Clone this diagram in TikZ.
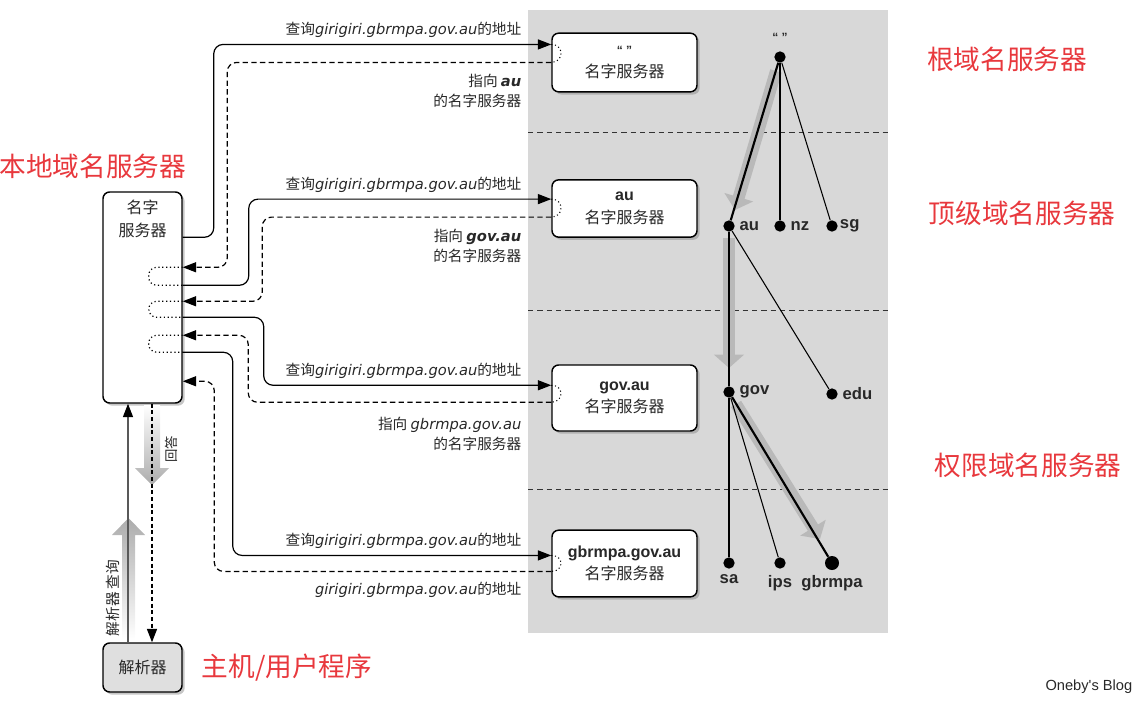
\documentclass[tikz,border=0pt]{standalone}
\usepackage{fontspec}
\setmainfont{Noto Sans CJK SC}
\newfontfamily\lat{Liberation Sans}
\newfontfamily\latit{DejaVu Sans}
\usepackage{xcolor}
\usetikzlibrary{arrows.meta,calc,shadows}
\definecolor{redtxt}{RGB}{232,56,61}
\definecolor{panel}{RGB}{216,216,216}
\definecolor{txt}{RGB}{40,40,40}
\tikzset{
  nsbox/.style ={draw,line width=1.1pt,rounded corners=5pt,fill=white,align=center,
                 font=\fontsize{12}{17}\selectfont,text=txt,
                 drop shadow={shadow xshift=2pt,shadow yshift=-2pt,opacity=.45}},
  qry/.style   ={line width=0.9pt,rounded corners=7pt,-{Triangle[length=10pt,width=7.5pt]}},
  ans/.style   ={qry,dash pattern=on 4pt off 2.5pt},
  loopd/.style ={line width=0.9pt,dotted,rounded corners=6pt},
  sep/.style   ={dash pattern=on 4pt off 3pt,gray!40!black,line width=0.7pt},
  dot/.style   ={circle,fill=black,inner sep=0pt,minimum size=8.5pt},
  tlbl/.style  ={font=\lat\bfseries\fontsize{12.5}{14}\selectfont,text=txt},
  tthick/.style={line width=1.6pt},
  tthin/.style ={line width=0.8pt},
  fat/.style   ={draw=gray!55,line width=9pt,-{Triangle[length=10pt,width=22pt]}},
  lbl/.style   ={font=\fontsize{11}{15}\selectfont,text=txt,align=right},
  redlbl/.style={font=\fontsize{20}{24}\selectfont,text=redtxt},
}
\newcommand{\gq}{{\latit\itshape girigiri.gbrmpa.gov.au}}

\begin{document}
\begin{tikzpicture}[x=0.75pt,y=-0.75pt]
  \useasboundingbox (0,0) rectangle (1147,711);
  % grey panel with the three levels
  \fill[panel] (528,10) rectangle (888,633);
  \foreach \yy in {132,310,489}
    \draw[sep] (528,\yy) -- (888,\yy);

  % name servers
  \node[nsbox,minimum width=108.75pt,minimum height=44pt] (root) at (624.5,62.5)
       {{\lat\bfseries\small “ ”}\\名字服务器};
  \node[nsbox,minimum width=108.75pt,minimum height=43pt] (au) at (624.5,208.5)
       {{\lat\bfseries au}\\名字服务器};
  \node[nsbox,minimum width=108.75pt,minimum height=49.5pt] (gov) at (624.5,398)
       {{\lat\bfseries gov.au}\\名字服务器};
  \node[nsbox,minimum width=108.75pt,minimum height=50pt] (gbr) at (624.5,563.5)
       {{\lat\bfseries gbrmpa.gov.au}\\名字服务器};
  \node[nsbox,minimum width=59.25pt,minimum height=158.25pt] (lns) at (142.5,297.5) {};
  \node[align=center,anchor=north,font=\fontsize{12}{17}\selectfont,text=txt] (lnst)
       at ($(lns.north)+(0,4)$) {名字\\服务器};
  \node[nsbox,fill=gray!25,minimum width=59.25pt,minimum height=36.75pt] (res) at (142.5,667.5) {解析器};

  % connector ends
  \coordinate (l1) at ($(lns.north east)+(0,46)$);
  \coordinate (l2) at ($(lns.north east)+(0,76)$);
  \coordinate (l3) at ($(lns.north east)+(0,94)$);
  \coordinate (l4) at ($(lns.north east)+(0,110)$);
  \coordinate (l5) at ($(lns.north east)+(0,126)$);
  \coordinate (l6) at ($(lns.north east)+(0,144)$);
  \coordinate (l7) at ($(lns.north east)+(0,161)$);
  \coordinate (l8) at ($(lns.north east)+(0,190)$);
  \coordinate (r1) at ($(root.north west)+(0,12)$);
  \coordinate (r2) at ($(root.north west)+(0,30)$);
  \coordinate (a1) at ($(au.north west)+(0,20)$);
  \coordinate (a2) at ($(au.north west)+(0,38)$);
  \coordinate (g1) at ($(gov.north west)+(0,21)$);
  \coordinate (g2) at ($(gov.north west)+(0,38)$);
  \coordinate (b1) at ($(gbr.north west)+(0,26)$);
  \coordinate (b2) at ($(gbr.north west)+(0,42)$);

  % queries and referrals
  \draw[qry] (l1) -- ++(31,0) |- (r1);
  \draw[ans] (r2) -- ++(-324,0) |- (l2);
  \draw[qry] (l3) -- ++(66,0) |- (a1);
  \draw[ans] (a2) -- ++(-289,0) |- (l4);
  \draw[qry] (l5) -- ++(81,0) |- (g1);
  \draw[ans] (g2) -- ++(-303,0) |- (l6);
  \draw[qry] (l7) -- ++(50,0) |- (b1);
  \draw[ans] (b2) -- ++(-337,0) |- (l8);
  % turn-arounds
  \draw[loopd] (l2) -- ++(-34,0) |- (l3);
  \draw[loopd] (l4) -- ++(-34,0) |- (l5);
  \draw[loopd] (l6) -- ++(-34,0) |- (l7);
  \foreach \p/\q in {r1/r2,a1/a2,g1/g2,b1/b2}
    \draw[line width=0.8pt,dotted] (\p) .. controls ($(\p)+(13,0)$) and ($(\q)+(13,0)$) .. (\q);

  \node[lbl,anchor=east] (t1) at (526,30) {查询\gq 的地址};
  \node[lbl,anchor=north east] (t2) at (526,69) {指向 {\latit\bfseries\itshape au}\\的名字服务器};
  \node[lbl,anchor=east] (t3) at (526,185) {查询\gq 的地址};
  \node[lbl,anchor=north east] (t4) at (526,224) {指向 {\latit\bfseries\itshape gov.au}\\的名字服务器};
  \node[lbl,anchor=east] (t5) at (526,371) {查询\gq 的地址};
  \node[lbl,anchor=north east] (t6) at (526,412) {指向 {\latit\itshape gbrmpa.gov.au}\\的名字服务器};
  \node[lbl,anchor=east] (t7) at (526,541) {查询\gq 的地址};
  \node[lbl,anchor=east] (t8) at (526,590) {\gq 的地址};

  % resolver <-> local name server
  \shade[top color=gray!65,bottom color=white] (122,640) -- (122,535) -- (112,535) -- (128.5,518)
        -- (145,535) -- (135,535) -- (135,640) -- cycle;
  \shade[top color=white,bottom color=gray!65] (144,405) -- (144,468) -- (135,468) -- (152,485)
        -- (169,468) -- (160,468) -- (160,405) -- cycle;
  \draw[gray!70!black,line width=0.9pt,-{Triangle[length=10pt,width=7.5pt,color=black]}]
       ($(res.north)+(-14.5,0)$) -- ($(lns.south)+(-14.5,0)$);
  \draw[line width=0.9pt,densely dashed,-{Triangle[length=10pt,width=7.5pt]}]
       ($(lns.south)+(9.5,0)$) -- ($(res.north)+(9.5,0)$);
  \node[rotate=90,font=\fontsize{10}{12}\selectfont,text=txt] (ans) at (171,449) {回答};
  \node[rotate=90,font=\fontsize{11}{12}\selectfont,text=txt] (ask) at (113,598) {解析器 查询};

  % domain tree
  \node[dot] (t0) at (780,57) {};
  \node[tlbl,font=\lat\bfseries\small] (t0l) at (780,37) {“ ”};
  \node[dot,label={[tlbl]right:au}] (tau) at (729,226) {};
  \node[dot,label={[tlbl]right:nz}] (tnz) at (780,226) {};
  \node[dot,label={[tlbl,label distance=-2pt]right:sg}] (tsg) at (832,226) {};
  \node[dot,label={[tlbl]right:gov}] (tgov) at (729,392) {};
  \node[dot,label={[tlbl]right:edu}] (tedu) at (832,394) {};
  \node[dot,label={[tlbl,label distance=1pt]below:sa}] (tsa) at (729,563) {};
  \node[dot,label={[tlbl,label distance=1pt]below:ips}] (tips) at (780,563) {};
  \node[dot,minimum size=10.5pt,label={[tlbl]below:gbrmpa}] (tgbr) at (832,563) {};
  \draw[fat] ($(t0)+(-4,14)$) -- ($(tau)+(6,-16)$);
  \draw[fat] ($(tau)+(0,12)$) -- ($(tgov)+(0,-24)$);
  \draw[fat] ($(tgov)+(7,12)$) -- ($(tgbr)+(-12,-24)$);
  \draw[tthick] (t0) -- (tau);
  \draw[tthin] (t0) -- (tnz);
  \draw[tthin] (t0) -- (tsg);
  \draw[tthick] (tau) -- (tgov);
  \draw[tthin] (tau) -- (tedu);
  \draw[tthin] (tgov) -- (tsa);
  \draw[tthin] (tgov) -- (tips);
  \draw[tthick] (tgov) -- (tgbr);

  % level captions
  \node[redlbl] (c0) at (93,166) {本地域名服务器};
  \node[redlbl] (c1) at (1007,59) {根域名服务器};
  \node[redlbl] (c2) at (1022,213) {顶级域名服务器};
  \node[redlbl] (c3) at (1028,465) {权限域名服务器};
  \node[redlbl] (c4) at (287,668) {主机/用户程序};
  \node[font=\lat\fontsize{11}{13}\selectfont,text=txt,anchor=east] (wm) at (1137,687) {Oneby's Blog};
\end{tikzpicture}
\end{document}
